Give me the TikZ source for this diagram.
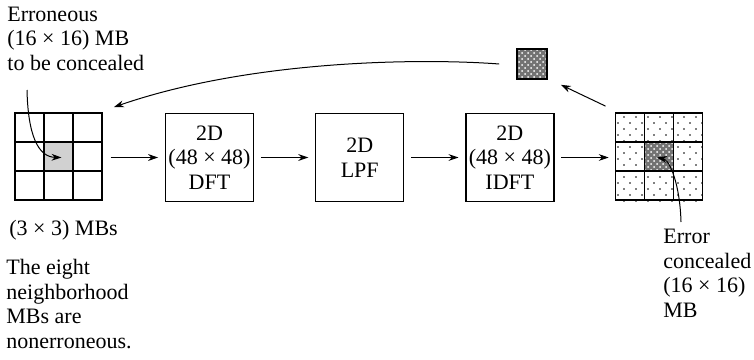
\documentclass[tikz,border=0pt]{standalone}
\usepackage{fontspec}
\setmainfont{Liberation Serif}
\usetikzlibrary{arrows.meta, positioning, calc, patterns}
\colorlet{errgray}{black!18}
\colorlet{fixgray}{black!55}
\tikzset{
  txt/.style={font=\fontsize{11}{12.25}\selectfont, inner sep=0pt},
  note/.style={txt, align=left},
  block/.style={rectangle, draw, line width=0.6pt, minimum size=44pt, align=center, txt},
  mbgrid/.style={rectangle, minimum size=44pt, inner sep=0pt},
  mbcell/.style={rectangle, draw, line width=0.8pt, minimum size=14.5pt, inner sep=0pt},
  concealed/.style={preaction={fill=fixgray}, pattern=crosshatch dots, pattern color=white},
  pointer/.style={-{Stealth[length=5pt, width=3.4pt]}, line width=0.5pt},
  arrow/.style={pointer, shorten <=3.4pt, shorten >=3.4pt},
}

\begin{document}
\begin{tikzpicture}[x=0.5pt, y=-0.5pt, node distance=30.5pt]
  \useasboundingbox (0,0) rectangle (754,359);
  % processing chain
  \node[mbgrid] (mbin) at (59.5,157.5) {};
  \node[block, right=of mbin] (dft) {2D\\(48 × 48)\\DFT};
  \node[block, right=of dft] (lpf) {2D\\LPF};
  \node[block, right=of lpf] (idft) {2D\\(48 × 48)\\IDFT};
  \node[mbgrid, right=of idft] (mbout) {};
  % input MBs, erroneous one in the middle
  \node[mbcell, draw=none, fill=errgray] (err) at (mbin) {};
  \foreach \r in {1,2,3}
    \foreach \c in {1,2,3}
      \node[mbcell] (in\r\c) at ($(mbin.north west)+(29*\c-14.5,29*\r-14.5)$) {};
  % output MBs, dotted
  \begin{scope}
    \clip (mbout.south west) rectangle (mbout.north east);
    \foreach \j in {0,...,14}
      \foreach \i in {0,...,7}
        \fill ({612+12*\i+6*mod(\j,2)},{117+6*\j}) circle (0.45pt);
  \end{scope}
  \node[mbcell, draw=none, concealed] (fix) at (mbout) {};
  \foreach \r in {1,2,3}
    \foreach \c in {1,2,3}
      \node[mbcell] (out\r\c) at ($(mbout.north west)+(29*\c-14.5,29*\r-14.5)$) {};
  \node[mbcell, concealed, minimum size=15pt] (sq) at (532,64) {};
  % connectors
  \draw[arrow] (mbin) -- (dft);
  \draw[arrow] (dft) -- (lpf);
  \draw[arrow] (lpf) -- (idft);
  \draw[arrow] (idft) -- (mbout);
  \draw[pointer] ([shift={(-10,-7)}]mbout.north west) -- ([shift={(13,5)}]sq.south east);
  \draw[pointer] ([xshift=-8.5pt]sq.west) .. controls (420,58) and (250,60) .. ([shift={(10,-6)}]mbin.north east);
  \coordinate (errtail) at (27,90);
  \draw[pointer] (errtail) .. controls (28,135) and (38,157) .. ([xshift=1pt]err.center);
  \coordinate (fixtail) at (681,222);
  \draw[pointer] (fixtail) .. controls (680,185) and (670,160) .. ([xshift=-1.5pt]fix.center);
  % texts (base = last line)
  \node[note, anchor=base west] (errtxt) at (7,70) {Erroneous\\(16 × 16) MB\\to be concealed};
  \node[note, anchor=base west] (mbtxt) at (9,235) {(3 × 3) MBs};
  \node[note, anchor=base west] (nbtxt) at (6,348) {The eight\\neighborhood\\MBs are\\nonerroneous.};
  \node[note, anchor=base west] (fixtxt) at (663,317) {Error\\concealed\\(16 × 16)\\MB};
\end{tikzpicture}
\end{document}
